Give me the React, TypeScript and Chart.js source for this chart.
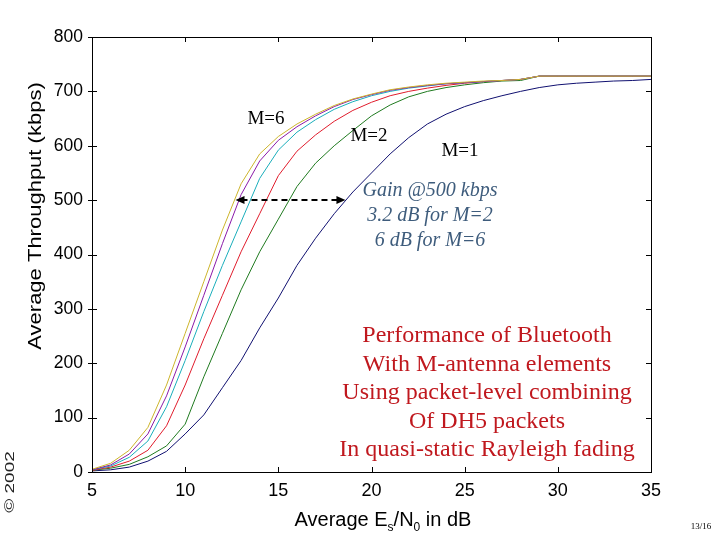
import React, { useEffect, useRef } from "react";
import { Chart, registerables } from "chart.js";

Chart.register(...registerables);

// Average Es/No in dB
const esNo = [5, 6, 7, 8, 9, 10, 11, 12, 13, 14, 15, 16, 17, 18, 19, 20, 21, 22, 23, 24, 25, 26, 27, 28, 29, 30, 31, 32, 33, 34, 35];

// Average throughput (kbps)
const m1 = [2, 4, 9, 20, 38, 70, 105, 155, 205, 265, 320, 380, 430, 475, 515, 550, 585, 615, 640, 658, 672, 683, 692, 700, 707, 712, 715, 717, 719, 720, 722];
const m2 = [3, 7, 14, 28, 48, 88, 175, 255, 335, 405, 465, 525, 568, 600, 628, 655, 675, 690, 700, 707, 712, 716, 719, 720, 728, 728, 728, 728, 728, 728, 728];
const m3 = [3, 9, 20, 40, 85, 160, 245, 325, 405, 475, 545, 590, 620, 645, 665, 680, 692, 700, 706, 711, 715, 718, 720, 722, 728, 728, 728, 728, 728, 728, 728];
const m4 = [4, 11, 27, 57, 120, 205, 295, 380, 460, 540, 592, 625, 648, 667, 681, 692, 700, 706, 710, 714, 716, 718, 720, 722, 728, 728, 728, 728, 728, 728, 728];
const m5 = [4, 13, 33, 70, 140, 230, 325, 420, 510, 572, 610, 635, 655, 672, 685, 694, 702, 707, 711, 714, 716, 718, 720, 722, 728, 728, 728, 728, 728, 728, 728];
const m6 = [5, 16, 40, 82, 160, 255, 350, 445, 530, 585, 617, 640, 658, 674, 686, 695, 703, 708, 712, 715, 717, 719, 720, 722, 728, 728, 728, 728, 728, 728, 728];

const seriesNames = ["M=6", "M=5", "M=4", "M=3", "M=2", "M=1"];
const seriesValues = [m6, m5, m4, m3, m2, m1];
const seriesColors = ["#cdb52c", "#8a1aa8", "#1aaebb", "#e01c2c", "#1f7a1f", "#101070"];

const xTickValues = [5, 10, 15, 20, 25, 30, 35];
const yTickValues = [0, 100, 200, 300, 400, 500, 600, 700, 800];

// Gain arrow at 500 kbps: from M=6 to M=1
const gainLevel = 500;
const gainFrom = 12.7;
const gainTo = 18.6;

const curveLabels = ["M=6", "M=2", "M=1"];
const gainLines = ["Gain @500 kbps", "3.2 dB for M=2", "6 dB for M=6"];
const noteLines = [
  "Performance of Bluetooth",
  "With M-antenna elements",
  "Using packet-level combining",
  "Of DH5 packets",
  "In quasi-static Rayleigh fading",
];

const SANS = '"Liberation Sans", Arial, sans-serif';
const SERIF = '"Liberation Serif", "Times New Roman", serif';

const decorations = {
  id: "decorations",
  afterDraw(chart: any) {
    const { ctx, chartArea: a, scales } = chart;
    const xs = scales.x;
    const ys = scales.y;
    ctx.save();

    // frame
    ctx.strokeStyle = "#000";
    ctx.lineWidth = 1;
    ctx.strokeRect(Math.round(a.left) + 0.5, Math.round(a.top) + 0.5, Math.round(a.right - a.left), Math.round(a.bottom - a.top));

    const line = (x1: number, y1: number, x2: number, y2: number) => {
      ctx.beginPath();
      ctx.moveTo(x1, y1);
      ctx.lineTo(x2, y2);
      ctx.stroke();
    };
    for (const v of xTickValues) {
      const px = Math.round(xs.getPixelForValue(v)) + 0.5;
      line(px, a.bottom, px, a.bottom - 5);
      line(px, a.top, px, a.top + 5);
    }
    for (const v of yTickValues) {
      const py = Math.round(ys.getPixelForValue(v)) + 0.5;
      line(a.left - 4, py, a.left + 5, py);
      line(a.right, py, a.right - 5, py);
    }

    // gain arrow
    const ay = Math.round(ys.getPixelForValue(gainLevel));
    const ax1 = xs.getPixelForValue(gainFrom);
    const ax2 = xs.getPixelForValue(gainTo);
    ctx.lineWidth = 2;
    ctx.setLineDash([6, 4]);
    line(ax1 + 6, ay, ax2 - 6, ay);
    ctx.setLineDash([]);
    ctx.fillStyle = "#000";
    ctx.beginPath();
    ctx.moveTo(ax1, ay);
    ctx.lineTo(ax1 + 9, ay - 4);
    ctx.lineTo(ax1 + 9, ay + 4);
    ctx.closePath();
    ctx.fill();
    ctx.beginPath();
    ctx.moveTo(ax2, ay);
    ctx.lineTo(ax2 - 9, ay - 4);
    ctx.lineTo(ax2 - 9, ay + 4);
    ctx.closePath();
    ctx.fill();

    // curve labels
    ctx.textAlign = "center";
    ctx.textBaseline = "middle";
    ctx.fillStyle = "#000";
    ctx.font = `19px ${SERIF}`;
    const labelPos = [[266, 119], [369, 136], [460, 151]];
    curveLabels.forEach((t, i) => ctx.fillText(t, labelPos[i][0], labelPos[i][1]));

    // gain text
    ctx.fillStyle = "#3e5c7c";
    ctx.font = `italic 20px ${SERIF}`;
    gainLines.forEach((t, i) => ctx.fillText(t, 430, 191 + i * 25));

    // note text
    ctx.fillStyle = "#c0181e";
    ctx.font = `24px ${SERIF}`;
    noteLines.forEach((t, i) => ctx.fillText(t, 487, 336 + i * 28.5));

    // y title
    ctx.fillStyle = "#000";
    ctx.save();
    ctx.translate(36, 216);
    ctx.rotate(-Math.PI / 2);
    ctx.scale(1, 0.85);
    ctx.font = `22px ${SANS}`;
    ctx.fillText("Average Throughput (kbps)", 0, 0);
    ctx.restore();

    // copyright
    ctx.save();
    ctx.translate(10, 482);
    ctx.rotate(-Math.PI / 2);
    ctx.scale(1, 0.7);
    ctx.fillStyle = "#222";
    ctx.font = `19px ${SANS}`;
    ctx.fillText("© 2002", 0, 0);
    ctx.restore();

    // x title with subscripts
    const big = `20px ${SANS}`;
    const small = `12px ${SANS}`;
    const parts: [string, boolean][] = [["Average E", false], ["s", true], ["/N", false], ["0", true], [" in dB", false]];
    let total = 0;
    for (const [t, sub] of parts) {
      ctx.font = sub ? small : big;
      total += ctx.measureText(t).width;
    }
    let cx = 383 - total / 2;
    ctx.textAlign = "left";
    ctx.textBaseline = "alphabetic";
    const base = 526;
    for (const [t, sub] of parts) {
      ctx.font = sub ? small : big;
      ctx.fillText(t, cx, sub ? base + 5 : base);
      cx += ctx.measureText(t).width;
    }

    // page number
    ctx.textAlign = "center";
    ctx.textBaseline = "middle";
    ctx.font = `9px ${SERIF}`;
    ctx.fillText("13/16", 701, 527);

    ctx.restore();
  },
};

export default function App() {
  const ref = useRef<HTMLCanvasElement | null>(null);
  useEffect(() => {
    if (!ref.current) return;
    const chart = new Chart(ref.current, {
      type: "line",
      data: {
        labels: esNo,
        datasets: seriesValues.map((vals, i) => ({
          label: seriesNames[i],
          data: vals.map((v, j) => ({ x: esNo[j], y: v })),
          borderColor: seriesColors[i],
          backgroundColor: seriesColors[i],
          borderWidth: 1,
          pointRadius: 0,
          tension: 0,
          fill: false,
        })),
      },
      options: {
        responsive: false,
        animation: false,
        layout: { padding: { top: 37, right: 69, left: 0, bottom: 0 } },
        plugins: { legend: { display: false }, tooltip: { enabled: false }, title: { display: false } },
        scales: {
          x: {
            type: "linear",
            min: 5,
            max: 35,
            grid: { display: false, drawTicks: false },
            border: { display: false },
            ticks: {
              stepSize: 5,
              padding: 8,
              color: "#000",
              font: { family: SANS, size: 18 },
            },
            afterFit: (s: any) => {
              s.height = 68;
            },
          },
          y: {
            type: "linear",
            min: 0,
            max: 800,
            grid: { display: false, drawTicks: false },
            border: { display: false },
            ticks: {
              stepSize: 100,
              padding: 9,
              color: "#000",
              font: { family: SANS, size: 17.5 },
            },
            afterFit: (s: any) => {
              s.width = 92;
            },
          },
        },
      },
      plugins: [decorations],
    });
    return () => chart.destroy();
  }, []);
  return (
    <div style={{ position: "fixed", left: 0, top: 0, width: 720, height: 540, background: "#fff" }}>
      <canvas ref={ref} width={720} height={540} style={{ width: 720, height: 540 }} />
    </div>
  );
}
